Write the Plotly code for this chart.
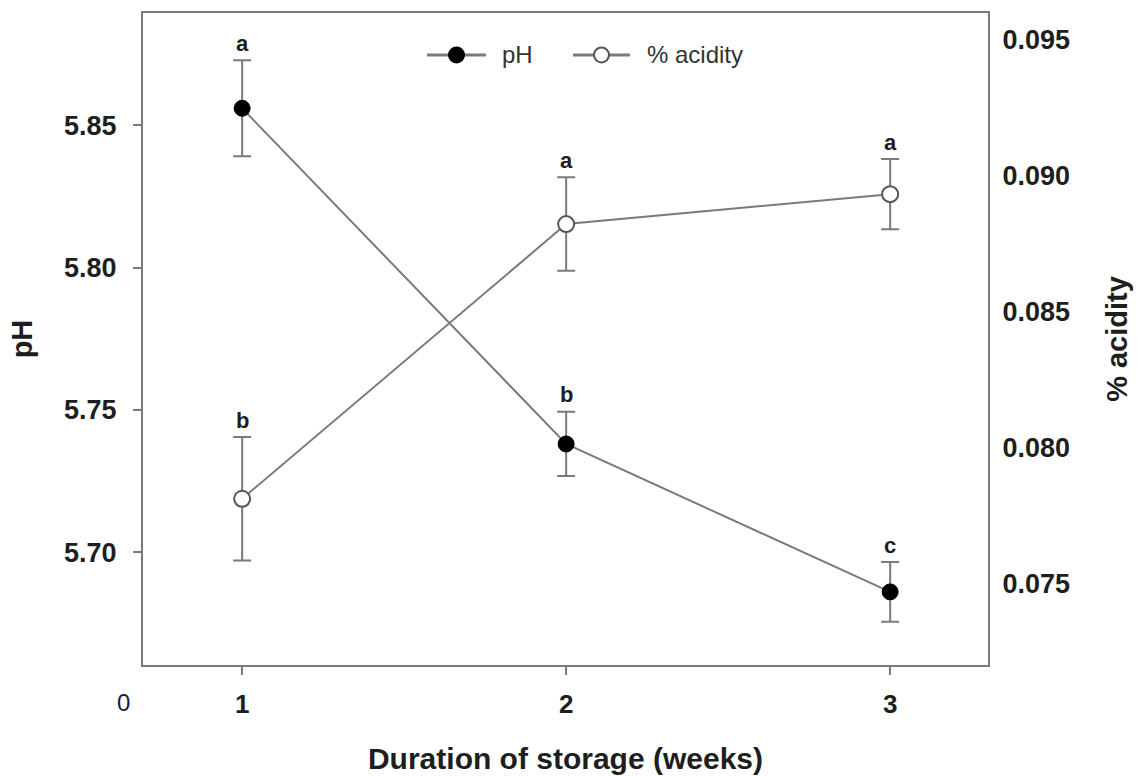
import plotly.graph_objects as go

# Storage duration (weeks) and measured means with their error bars
weeks = [1, 2, 3]
ph_mean = [5.856, 5.738, 5.686]
ph_err = [0.0169, 0.0113, 0.0105]
acidity_mean = [0.0781, 0.0882, 0.0893]
acidity_err = [0.00227, 0.00172, 0.00129]

# Significance letters placed above each error bar
ph_letters = ["a", "b", "c"]
acidity_letters = ["b", "a", "a"]

# Axis ticks
week_ticks = [1, 2, 3]
ph_ticks = [5.70, 5.75, 5.80, 5.85]
acidity_ticks = [0.075, 0.080, 0.085, 0.090, 0.095]

GREY = "#7a7a7a"
TEXT = "#1e1e1e"
BOLD_FONT = "Liberation Sans"

# plot area in pixels (used to place the hand-drawn legend)
W, H = 1138, 776
ML, MR, MT, MB = 143, 150, 13, 111
PW, PH = W - ML - MR, H - MT - MB


def px_x(px):
    return (px - ML) / PW


def px_y(py):
    return (H - MB - py) / PH


fig = go.Figure()

fig.add_trace(go.Scatter(
    x=weeks, y=ph_mean, name="pH", mode="lines+markers",
    line=dict(color=GREY, width=2),
    marker=dict(color="black", size=16, line=dict(color="black", width=1)),
    error_y=dict(type="data", array=ph_err, color=GREY, thickness=2, width=9),
    yaxis="y", showlegend=False,
))

fig.add_trace(go.Scatter(
    x=weeks, y=acidity_mean, name="% acidity", mode="lines+markers",
    line=dict(color=GREY, width=2),
    marker=dict(color="white", size=16, line=dict(color="#555555", width=2)),
    error_y=dict(type="data", array=acidity_err, color=GREY, thickness=2, width=9),
    yaxis="y2", showlegend=False,
))

annotations = []
for w, m, e, t in zip(weeks, ph_mean, ph_err, ph_letters):
    annotations.append(dict(x=w, y=m + e, xref="x", yref="y", text=t,
                            showarrow=False, yanchor="middle", yshift=17,
                            font=dict(family=BOLD_FONT, size=22, color=TEXT, weight="bold")))
for w, m, e, t in zip(weeks, acidity_mean, acidity_err, acidity_letters):
    annotations.append(dict(x=w, y=m + e, xref="x", yref="y2", text=t,
                            showarrow=False, yanchor="middle", yshift=17,
                            font=dict(family=BOLD_FONT, size=22, color=TEXT, weight="bold")))

# stray origin label left of the first week tick
annotations.append(dict(x=px_x(123), y=px_y(703), xref="paper", yref="paper", text="0",
                        showarrow=False, xanchor="center", yanchor="middle",
                        font=dict(family="Liberation Sans", size=24, color="#1a1a3a")))

# legend: line sample with marker, then label
shapes = []
legend_items = [
    # (line start px, line end px, marker fill, marker edge, label, label px)
    (427, 486, "black", "black", "pH", 500),
    (573, 630, "white", "#555555", "% acidity", 645),
]
ly = px_y(55)
for x0, x1, fill, edge, label, tx in legend_items:
    shapes.append(dict(type="line", xref="paper", yref="paper",
                       x0=px_x(x0), x1=px_x(x1), y0=ly, y1=ly,
                       line=dict(color=GREY, width=3)))
    xc = px_x((x0 + x1) / 2)
    shapes.append(dict(type="circle", xref="paper", yref="paper",
                       xsizemode="pixel", ysizemode="pixel",
                       xanchor=xc, yanchor=ly, x0=-7.5, x1=7.5, y0=-7.5, y1=7.5,
                       fillcolor=fill, line=dict(color=edge, width=2)))
    annotations.append(dict(x=px_x(tx), y=ly, xref="paper", yref="paper", text=label,
                            showarrow=False, xanchor="left", yanchor="middle",
                            font=dict(family="Liberation Sans", size=24, color="#333333")))

fig.update_layout(
    width=W, height=H,
    margin=dict(l=ML, r=MR, t=MT, b=MB, autoexpand=False),
    paper_bgcolor="white", plot_bgcolor="white",
    showlegend=False,
    annotations=annotations,
    shapes=shapes,
    xaxis=dict(
        range=[0.694, 3.302], tickvals=week_ticks, ticktext=[str(v) for v in week_ticks],
        showgrid=False, zeroline=False, automargin=False,
        showline=True, linecolor=GREY, linewidth=2, mirror=True,
        ticks="outside", ticklen=8, tickcolor=GREY, tickwidth=2,
        ticklabelstandoff=7,
        tickfont=dict(family=BOLD_FONT, size=26, color=TEXT, weight="bold"),
        title=dict(text="Duration of storage (weeks)", standoff=30,
                   font=dict(family=BOLD_FONT, size=30, color=TEXT, weight="bold")),
    ),
    yaxis=dict(
        range=[5.6603, 5.8895], tickvals=ph_ticks, ticktext=[f"{v:.2f}" for v in ph_ticks],
        showgrid=False, zeroline=False, automargin=False,
        showline=True, linecolor=GREY, linewidth=2,
        ticks="outside", ticklen=8, tickcolor=GREY, tickwidth=2,
        ticklabelstandoff=11,
        tickfont=dict(family=BOLD_FONT, size=27, color=TEXT, weight="bold"),
        title=dict(text="pH", standoff=23,
                   font=dict(family=BOLD_FONT, size=29, color=TEXT, weight="bold")),
    ),
    yaxis2=dict(
        range=[0.07199, 0.09596], tickvals=acidity_ticks,
        ticktext=[f"{v:.3f}" for v in acidity_ticks],
        overlaying="y", side="right",
        showgrid=False, zeroline=False, automargin=False,
        showline=True, linecolor=GREY, linewidth=2,
        ticks="", ticklabelstandoff=7,
        tickfont=dict(family=BOLD_FONT, size=27, color=TEXT, weight="bold"),
        title=dict(text="% acidity", standoff=38,
                   font=dict(family=BOLD_FONT, size=29, color=TEXT, weight="bold")),
    ),
)

fig.write_html("out.html")
